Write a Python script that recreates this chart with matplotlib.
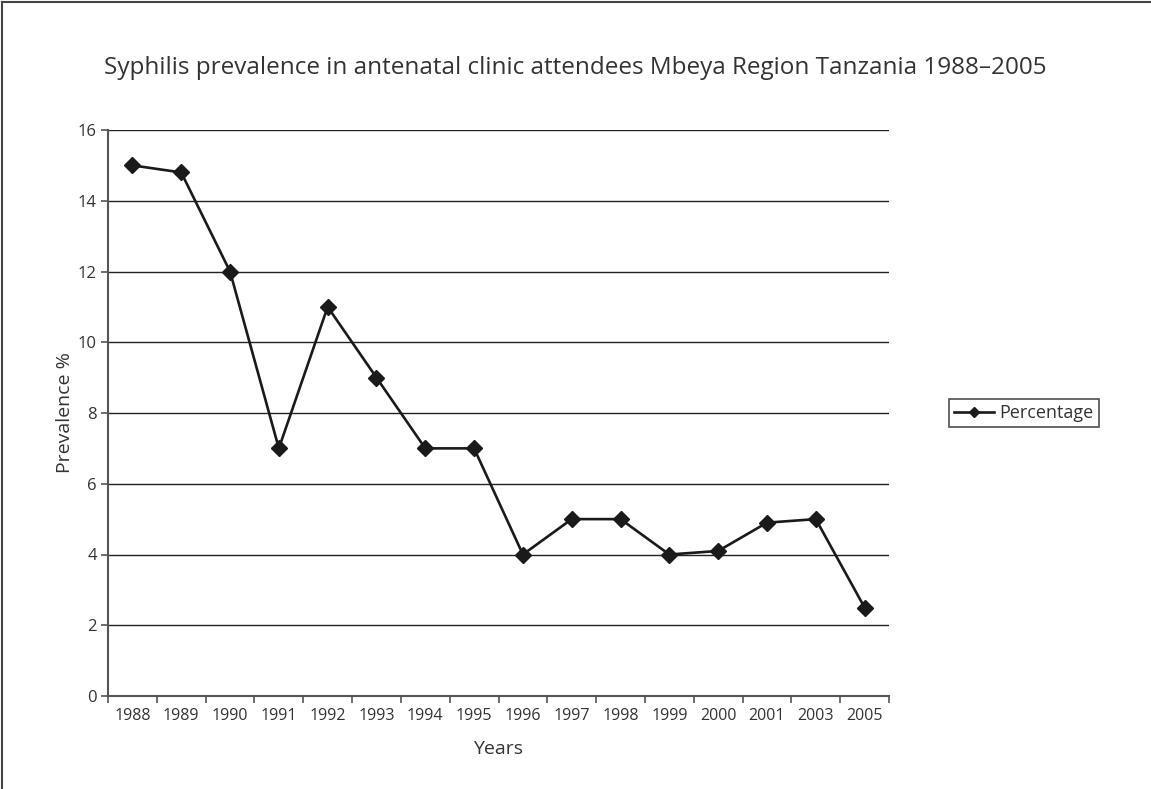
import numpy as np
import matplotlib.pyplot as plt
from matplotlib.lines import Line2D

years = ['1988', '1989', '1990', '1991', '1992', '1993', '1994', '1995',
         '1996', '1997', '1998', '1999', '2000', '2001', '2003', '2005']
percentage = [15, 14.8, 12, 7, 11, 9, 7, 7, 4, 5, 5, 4, 4.1, 4.9, 5, 2.5]

plt.rcParams['font.family'] = ['Open Sans', 'DejaVu Sans']
txt = '#333333'
spine = '#555555'

fig = plt.figure(figsize=(11.51, 7.89), dpi=100)
ax = fig.add_axes([108 / 1151, 1 - 696 / 789, 781 / 1151, 566 / 789])

x = np.arange(len(years))
ax.plot(x, percentage, color='#1a1a1a', lw=1.9, marker='D', ms=8,
        label='Percentage', zorder=3)

ax.set_xlim(-0.5, len(years) - 0.5)
ax.set_ylim(0, 16)
ax.set_yticks(range(0, 17, 2))
ax.set_xticks(x)
ax.set_xticklabels(years)
ax.set_xticks(np.arange(-0.5, len(years), 1), minor=True)
ax.tick_params(axis='x', which='major', length=0, pad=9, labelsize=11.5, labelcolor=txt)
ax.tick_params(axis='x', which='minor', length=5, width=1.2, color=spine, direction='out')
ax.tick_params(axis='y', length=5, width=1.2, color=spine, labelsize=12, labelcolor=txt, pad=3)

ax.yaxis.grid(True, color='#222222', lw=1.0)
ax.set_axisbelow(True)
for s in ['top', 'right']:
    ax.spines[s].set_visible(False)
for s in ['left', 'bottom']:
    ax.spines[s].set_color(spine)
    ax.spines[s].set_linewidth(1.5)

ax.set_xlabel('Years', fontsize=14, color=txt, labelpad=11)
ax.set_ylabel('Prevalence %', fontsize=14, color=txt, labelpad=3)

fig.text(0.5, 1 - 68 / 789, 'Syphilis prevalence in antenatal clinic attendees Mbeya Region Tanzania 1988\u20132005',
         ha='center', va='center', fontsize=17.5, color=txt)

handle = Line2D([], [], color='#1a1a1a', lw=1.9, marker='D', ms=5)
leg = fig.legend(handles=[handle], labels=['Percentage'], loc='center left',
                 bbox_to_anchor=(949 / 1151, 1 - 413 / 789), frameon=True,
                 fancybox=False, edgecolor='#222222', fontsize=13,
                 handlelength=2.2, handletextpad=0.3, borderpad=0.3,
                 borderaxespad=0)
leg.get_frame().set_linewidth(1.2)
for t in leg.get_texts():
    t.set_color(txt)

# chart area border (top and left visible)
fig.add_artist(Line2D([2 / 1151, 1], [1 - 2 / 789, 1 - 2 / 789], color='#444444', lw=1.5))
fig.add_artist(Line2D([2 / 1151, 2 / 1151], [0, 1 - 2 / 789], color='#444444', lw=1.5))

fig.savefig('out.png', dpi=100)
